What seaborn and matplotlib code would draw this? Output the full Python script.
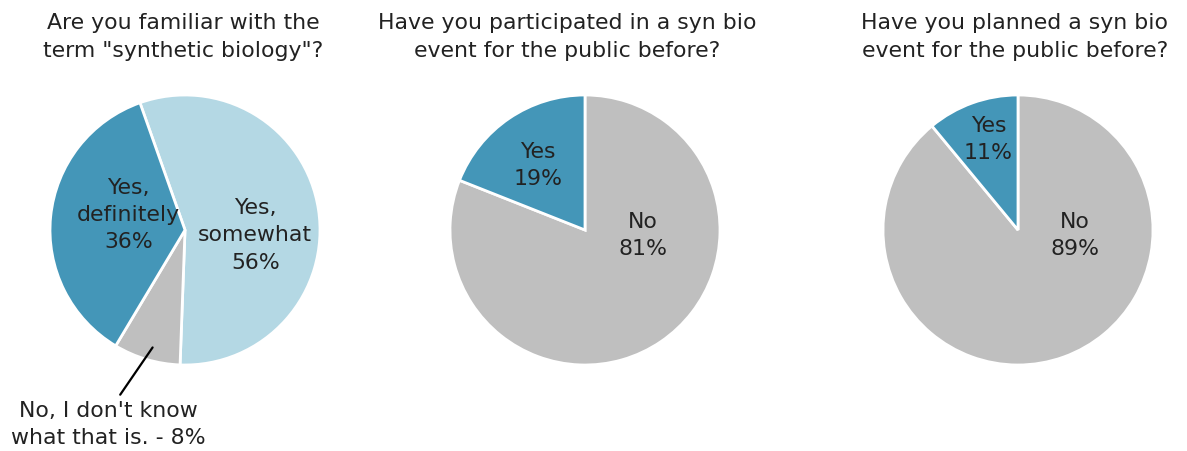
import matplotlib
matplotlib.use("Agg")
import matplotlib.pyplot as plt
import seaborn as sns

sns.set_theme(style="white")
plt.rcParams['font.family'] = ['DejaVu Sans']

# Data
q1_labels = ["Yes,\nsomewhat", "No, I don't know\nwhat that is.", "Yes,\ndefinitely"]
q1_values = [56, 8, 36]
q2_labels = ["No", "Yes"]
q2_values = [81, 19]
q3_labels = ["No", "Yes"]
q3_values = [89, 11]
titles = ["Are you familiar with the\nterm \"synthetic biology\"?",
          "Have you participated in a syn bio\nevent for the public before?",
          "Have you planned a syn bio\nevent for the public before?"]

DARK = "#4496b8"
LIGHT = "#b4d8e4"
GRAY = "#bfbfbf"
TXT = "#222222"

W, H = 1187, 451
fig = plt.figure(figsize=(W / 100, H / 100), dpi=100)
R = 135

def make_ax(cx, cy):
    ax = fig.add_axes([(cx - R) / W, 1 - (cy + R) / H, 2 * R / W, 2 * R / H])
    ax.set_xlim(-1, 1)
    ax.set_ylim(-1, 1)
    ax.axis("off")
    return ax

FS = 15.8
LS = 1.45
wp = dict(edgecolor="white", linewidth=2)
tk = dict(ha="center", va="center", fontsize=FS, color=TXT, linespacing=LS)

# Pie 1
ax1 = make_ax(185, 230)
ax1.pie(q1_values, colors=[LIGHT, GRAY, DARK], startangle=109.5, counterclock=False,
        radius=1, wedgeprops=wp, frame=False)
ax1.set_xlim(-1, 1); ax1.set_ylim(-1, 1)
ax1.text(0.52, -0.04, f"{q1_labels[0]}\n{q1_values[0]}%", **tk)
ax1.text(-0.42, 0.11, f"{q1_labels[2]}\n{q1_values[2]}%", **tk)
ax1.plot([-0.24, -0.48], [-0.87, -1.22], color="black", lw=1.6, clip_on=False)
ax1.text(-0.57, -1.44, f"{q1_labels[1]} - {q1_values[1]}%", clip_on=False, **tk)

# Pie 2
ax2 = make_ax(585, 230)
ax2.pie(q2_values, colors=[GRAY, DARK], startangle=90, counterclock=False,
        radius=1, wedgeprops=wp, frame=False)
ax2.set_xlim(-1, 1); ax2.set_ylim(-1, 1)
ax2.text(-0.35, 0.48, f"{q2_labels[1]}\n{q2_values[1]}%", **tk)
ax2.text(0.43, -0.04, f"{q2_labels[0]}\n{q2_values[0]}%", **tk)

# Pie 3
ax3 = make_ax(1018, 230)
ax3.pie(q3_values, colors=[GRAY, DARK], startangle=90, counterclock=False,
        radius=1, wedgeprops=wp, frame=False)
ax3.set_xlim(-1, 1); ax3.set_ylim(-1, 1)
ax3.text(-0.22, 0.67, f"{q3_labels[1]}\n{q3_values[1]}%", **tk)
ax3.text(0.42, -0.04, f"{q3_labels[0]}\n{q3_values[0]}%", **tk)

for cx, t in zip([183, 567, 1015], titles):
    fig.text(cx / W, 1 - 37 / H, t, **tk)

fig.savefig("out.png", dpi=100, facecolor="white")
